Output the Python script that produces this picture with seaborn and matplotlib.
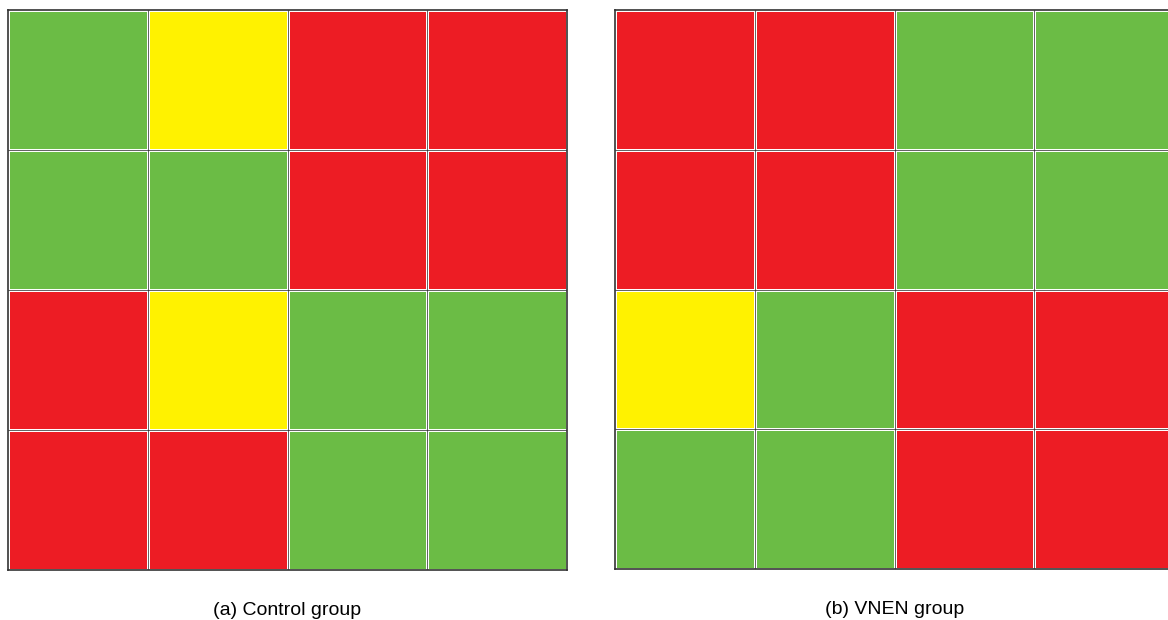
import numpy as np
import pandas as pd
import matplotlib
matplotlib.use('Agg')
import matplotlib.pyplot as plt
from matplotlib.colors import ListedColormap
import seaborn as sns

# cell states per group, rows top -> bottom
states = ['green', 'yellow', 'red']
control = [['green', 'yellow', 'red', 'red'],
           ['green', 'green', 'red', 'red'],
           ['red', 'yellow', 'green', 'green'],
           ['red', 'red', 'green', 'green']]
vnen = [['red', 'red', 'green', 'green'],
        ['red', 'red', 'green', 'green'],
        ['yellow', 'green', 'red', 'red'],
        ['green', 'green', 'red', 'red']]
captions = ['(a) Control group', '(b) VNEN group']

cmap = ListedColormap(['#6BBC45', '#FFF200', '#ED1C24'])

sns.set_style('white')
plt.rcParams['font.family'] = ['Liberation Sans', 'DejaVu Sans']

fig = plt.figure(figsize=(11.68, 6.2), dpi=100)
ax1 = fig.add_axes([8 / 1168, 50 / 620, 559 / 1168, 560 / 620])
ax2 = fig.add_axes([615 / 1168, 51 / 620, 559 / 1168, 559 / 620])

for ax, grid, cap in zip([ax1, ax2], [control, vnen], captions):
    codes = pd.DataFrame(grid).apply(lambda c: c.map(states.index))
    sns.heatmap(codes, ax=ax, cmap=cmap, vmin=-0.5, vmax=2.5, cbar=False,
                linewidths=2, linecolor='white', square=False,
                xticklabels=False, yticklabels=False)
    for k in range(1, 4):
        ax.axhline(k, color='#222222', lw=0.5)
        ax.axvline(k, color='#222222', lw=0.5)
    for s in ax.spines.values():
        s.set_visible(True)
        s.set_color('#333333')
        s.set_linewidth(1.2)
    ax.set_xlabel(cap, fontsize=14, color='black', labelpad=23)

fig.savefig('out.png', dpi=100)
